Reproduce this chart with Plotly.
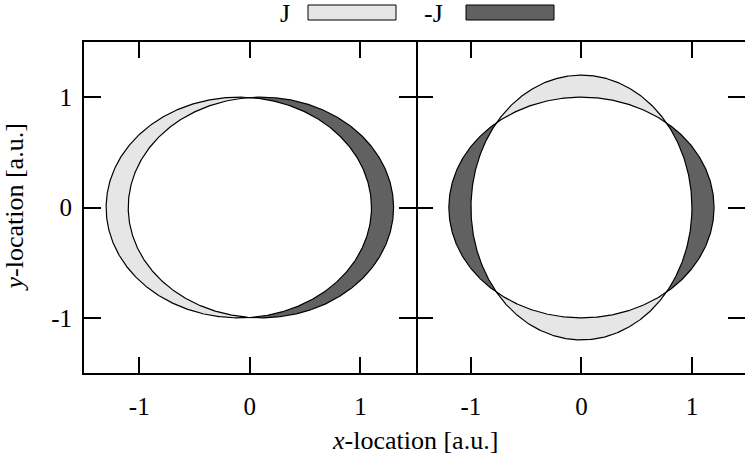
import numpy as np
import plotly.graph_objects as go

# Ellipse parameters per panel: index 0 bounds the "J" region, index 1 the "-J" region
left_cx = [-0.1, 0.1]
left_cy = [0.0, 0.0]
left_a = [1.2, 1.2]
left_b = [1.0, 1.0]

right_cx = [0.0, 0.0]
right_cy = [0.0, 0.0]
right_a = [1.0, 1.2]
right_b = [1.2, 1.0]

series_names = ["J", "-J"]
series_colors = ["#e6e6e6", "#616161"]

tick_vals = [-1, 0, 1]
tick_text = ["-1", "0", "1"]
x_range_left = [-1.5, 1.5]
x_range_right = [-1.5, 1.48]
y_range = [-1.5, 1.5]

FONT = "Liberation Serif"
TICK_SIZE = 25
TEXT_SIZE = 26


def ell_xy(e, t):
    cx, cy, a, b = e
    return cx + a * np.cos(t), cy + b * np.sin(t)


def level(e, x, y):
    cx, cy, a, b = e
    return ((x - cx) / a) ** 2 + ((y - cy) / b) ** 2 - 1.0


def angle_on(e, x, y):
    cx, cy, a, b = e
    return np.arctan2((y - cy) / b, (x - cx) / a)


def crossing(A, B, t0, t1):
    # bisection on the parameter of A for the boundary of B
    g0 = level(B, *ell_xy(A, t0))
    for _ in range(60):
        tm = 0.5 * (t0 + t1)
        gm = level(B, *ell_xy(A, tm))
        if (gm > 0) == (g0 > 0):
            t0, g0 = tm, gm
        else:
            t1 = tm
    return 0.5 * (t0 + t1)


def difference(A, B, n=3600):
    """Polygons of the region inside ellipse A but outside ellipse B."""
    t = np.linspace(0, 2 * np.pi, n, endpoint=False)
    g = level(B, *ell_xy(A, t))
    if (g > 0).all():
        x, y = ell_xy(A, np.append(t, 0))
        return [(x, y)]
    if not (g > 0).any():
        return []
    dt = t[1] - t[0]
    t = t[np.argmin(g)] + np.arange(n) * dt
    out = level(B, *ell_xy(A, t)) > 0
    edges = np.diff(np.concatenate([[0], out.astype(int), [0]]))
    starts = np.where(edges == 1)[0]
    ends = np.where(edges == -1)[0] - 1
    polys = []
    for i0, i1 in zip(starts, ends):
        ta = crossing(A, B, t[i0], t[i0 - 1])
        tb = crossing(A, B, t[i1], t[(i1 + 1) % n] if i1 + 1 < n else t[i1] + dt)
        arc_t = np.linspace(ta, tb, 400)
        xa, ya = ell_xy(A, arc_t)
        px, py = ell_xy(A, ta)
        qx, qy = ell_xy(A, tb)
        th_p = angle_on(B, px, py)
        th_q = angle_on(B, qx, qy)
        d = (th_q - th_p) % (2 * np.pi)
        th = th_q - np.linspace(0, d, 400)
        xb, yb = ell_xy(B, th)
        polys.append((np.concatenate([xa, xb]), np.concatenate([ya, yb])))
    return polys


fig = go.Figure()

panels = [
    ("x", "y", left_cx, left_cy, left_a, left_b),
    ("x2", "y2", right_cx, right_cy, right_a, right_b),
]

for xa_name, ya_name, cx, cy, a, b in panels:
    ells = [(cx[i], cy[i], a[i], b[i]) for i in range(2)]
    for k in range(2):
        for px, py in difference(ells[k], ells[1 - k]):
            fig.add_trace(go.Scatter(
                x=px, y=py, xaxis=xa_name, yaxis=ya_name, mode="lines",
                fill="toself", fillcolor=series_colors[k],
                line=dict(width=0, color=series_colors[k]),
                name=series_names[k], showlegend=False, hoverinfo="skip",
            ))
    tt = np.linspace(0, 2 * np.pi, 720)
    for e in ells:
        ex, ey = ell_xy(e, tt)
        fig.add_trace(go.Scatter(
            x=ex, y=ey, xaxis=xa_name, yaxis=ya_name, mode="lines",
            line=dict(color="black", width=1.2), showlegend=False,
            hoverinfo="skip",
        ))

split = (415.7 - 84) / (745 - 84)

axis_common = dict(
    tickvals=tick_vals, ticktext=tick_text, ticks="inside",
    tickwidth=2, tickcolor="black", showgrid=False, zeroline=False,
    linecolor="black", linewidth=2,
    tickfont=dict(family=FONT, size=TICK_SIZE, color="black"),
)

fig.update_layout(
    width=745, height=468,
    margin=dict(l=84, r=0, t=42, b=95),
    paper_bgcolor="white", plot_bgcolor="white",
    showlegend=False,
    xaxis=dict(axis_common, domain=[0, split], range=x_range_left,
               anchor="y", ticklen=16, showline=True, mirror="ticks",
               ticklabelstandoff=10),
    xaxis2=dict(axis_common, domain=[split, 1], range=x_range_right,
                anchor="y2", ticklen=16, showline=True, mirror="ticks",
                ticklabelstandoff=10),
    yaxis=dict(axis_common, domain=[0, 1], range=y_range, anchor="x",
               ticklen=17, showline=True, mirror="ticks",
               ticklabelstandoff=5),
    yaxis2=dict(axis_common, domain=[0, 1], range=y_range, anchor="x2",
                ticklen=17, showline=False, mirror="ticks",
                showticklabels=False),
)

# axis titles
fig.add_annotation(
    text="<i>x</i>-location [a.u.]", xref="paper", yref="paper",
    x=0.5, y=0, yshift=-67, showarrow=False, yanchor="middle",
    font=dict(family=FONT, size=TEXT_SIZE, color="black"),
)
fig.add_annotation(
    text="<i>y</i>-location [a.u.]", xref="paper", yref="paper",
    x=0, xshift=-70, y=0.5, textangle=-90, showarrow=False,
    xanchor="center", font=dict(family=FONT, size=TEXT_SIZE, color="black"),
)

# legend row above the panels
legend_items = [(285, 308, 396), (434, 466, 554)]
for k, (tx, x0, x1) in enumerate(legend_items):
    fig.add_annotation(
        text=series_names[k], xref="paper", yref="paper",
        x=(tx - 84) / 661, y=1, yshift=29, showarrow=False,
        xanchor="center", yanchor="middle",
        font=dict(family=FONT, size=TEXT_SIZE, color="black"),
    )
    fig.add_shape(
        type="rect", xref="paper", yref="paper",
        x0=(x0 - 84) / 661, x1=(x1 - 84) / 661,
        y0=1 + (42 - 20) / 331, y1=1 + (42 - 5) / 331,
        fillcolor=series_colors[k], line=dict(color="black", width=1),
    )

fig.write_html("out.html")
